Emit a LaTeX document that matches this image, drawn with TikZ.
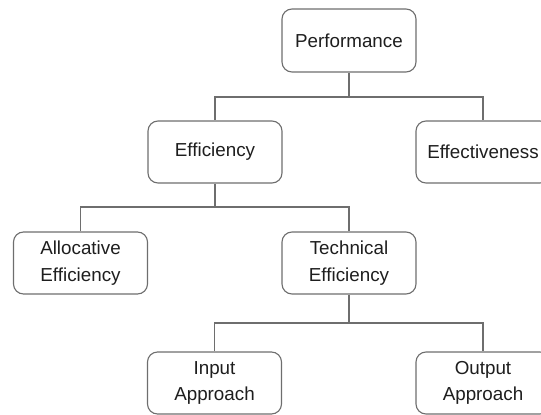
\documentclass[tikz,border=0pt]{standalone}
\usepackage{fontspec}
\setmainfont{Liberation Sans}
\definecolor{boxline}{HTML}{6E6E6E}
\definecolor{txt}{HTML}{1E1E1E}
\begin{document}
\begin{tikzpicture}[x=1pt,y=-1pt,
  box/.style={draw=boxline, line width=1.1pt, rounded corners=10pt, fill=white,
    minimum width=134pt, minimum height=62pt, align=center, text=txt,
    inner sep=0pt, font=\fontsize{18.8}{26.5}\selectfont},
  conn/.style={draw=boxline, line width=1.1pt}]
\useasboundingbox (0,0) rectangle (541,415);
\node[box, minimum height=63pt] (perf) at (349,40.5) {Performance};
\node[box] (eff) at (215,152) {Efficiency};
\node[box] (effv) at (483,152) {Effectiveness};
\node[box] (alloc) at (80.5,263) {Allocative\\Efficiency};
\node[box] (tech) at (349,263) {Technical\\Efficiency};
\node[box] (inp) at (214.5,383) {Input\\Approach};
\node[box] (outp) at (483,383) {Output\\Approach};
\coordinate (j1) at (349,97);
\coordinate (j2) at (215,207);
\coordinate (j3) at (349,323);
\draw[conn] (perf.south) -- (j1) -| (eff.north);
\draw[conn] (j1) -| (effv.north);
\draw[conn] (eff.south) -- (j2) -| (alloc.north);
\draw[conn] (j2) -| (tech.north);
\draw[conn] (tech.south) -- (j3) -| (inp.north);
\draw[conn] (j3) -| (outp.north);
\end{tikzpicture}
\end{document}
